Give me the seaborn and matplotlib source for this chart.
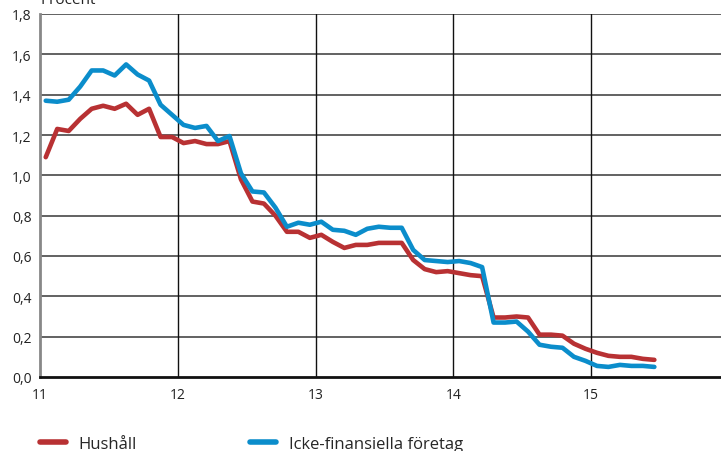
import numpy as np
import pandas as pd
import matplotlib
matplotlib.use('Agg')
import matplotlib.pyplot as plt
import seaborn as sns

# Monthly values, Jan 2011 - Jun 2015 (procent)
hushall = [1.09, 1.23, 1.22, 1.28, 1.33, 1.345, 1.33, 1.355, 1.30, 1.33,
           1.19, 1.19, 1.16, 1.17, 1.155, 1.155, 1.17, 0.98, 0.87, 0.86,
           0.80, 0.72, 0.72, 0.69, 0.705, 0.67, 0.64, 0.655, 0.655, 0.665,
           0.665, 0.665, 0.58, 0.535, 0.52, 0.525, 0.515, 0.505, 0.50, 0.295,
           0.295, 0.30, 0.295, 0.21, 0.21, 0.205, 0.165, 0.14, 0.12, 0.105,
           0.10, 0.10, 0.09, 0.085]
foretag = [1.37, 1.365, 1.375, 1.44, 1.52, 1.52, 1.495, 1.55, 1.50, 1.47,
           1.35, 1.30, 1.25, 1.235, 1.245, 1.17, 1.195, 1.01, 0.92, 0.915,
           0.84, 0.745, 0.765, 0.755, 0.77, 0.73, 0.725, 0.705, 0.735, 0.745,
           0.74, 0.74, 0.63, 0.58, 0.575, 0.57, 0.575, 0.565, 0.545, 0.27,
           0.27, 0.275, 0.225, 0.16, 0.15, 0.145, 0.10, 0.08, 0.055, 0.05,
           0.06, 0.055, 0.055, 0.05]
series_names = ['Hushåll', 'Icke-finansiella företag']
colors = ['#B83133', '#0B8DCB']
x_ticks = [11, 12, 13, 14, 15]
y_ticks = [0.0, 0.2, 0.4, 0.6, 0.8, 1.0, 1.2, 1.4, 1.6, 1.8]

# decimal year (two-digit) at mid-month
months = pd.period_range('2011-01', periods=len(hushall), freq='M')
t = (months.year - 2000) + (months.month - 0.5) / 12

df = pd.DataFrame({
    't': np.concatenate([t, t]),
    'value': hushall + foretag,
    'serie': [series_names[0]] * len(hushall) + [series_names[1]] * len(foretag),
})

sns.set_style('white')
plt.rcParams['font.family'] = ['Open Sans', 'DejaVu Sans']

fig = plt.figure(figsize=(7.21, 4.52), dpi=100)
ax = fig.add_axes([40 / 721, 74 / 452, 689 / 721, 363 / 452])

sns.lineplot(data=df, x='t', y='value', hue='serie', palette=colors,
             linewidth=3.3, ax=ax, legend=False)

ax.set_xlim(11, 16)
ax.set_ylim(0, 1.8)
ax.set_xticks(x_ticks)
ax.set_xticklabels([str(v) for v in x_ticks], fontsize=10, color='#222222')
ax.set_yticks(y_ticks)
ax.set_yticklabels([f'{v:.1f}'.replace('.', ',') for v in y_ticks],
                   fontsize=10, color='#222222')
ax.tick_params(axis='both', length=0)
ax.tick_params(axis='x', pad=7)
ax.tick_params(axis='y', pad=6)
ax.set_xlabel('')
ax.set_ylabel('')

# grid
for yv in y_ticks[1:]:
    ax.axhline(yv, color='#555555', lw=1.3, zorder=0)
for xv in x_ticks[1:]:
    ax.axvline(xv, color='#111111', lw=1.0, zorder=0)

for s in ['top', 'right']:
    ax.spines[s].set_visible(False)
ax.spines['left'].set_color('#888888')
ax.spines['left'].set_linewidth(2)
ax.spines['bottom'].set_color('#111111')
ax.spines['bottom'].set_linewidth(2)

fig.text(40 / 721, 1.0, 'Procent', fontsize=11, va='center', ha='left',
         color='#222222')

handles = [plt.Line2D([], [], color=c, lw=4) for c in colors]
fig.legend(handles, series_names, loc='lower left', bbox_to_anchor=(0.035, -0.035),
           ncol=2, frameon=False, fontsize=12, handlelength=1.55,
           handletextpad=0.75, columnspacing=6.8)

fig.savefig('out.png', dpi=100)
